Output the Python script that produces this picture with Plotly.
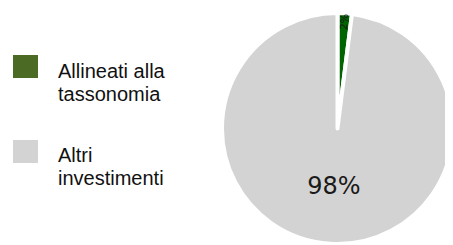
import plotly.graph_objects as go

labels = ["Allineati alla tassonomia", "Altri investimenti"]
values = [2, 98]
slice_colors = ["#006400", "#d3d3d3"]
legend_colors = ["#4b6b25", "#d3d3d3"]
legend_lines = [["Allineati alla", "tassonomia"], ["Altri", "investimenti"]]

# page body has an 8px margin; figure sized so it fits the 453x245 window
W, H = 445, 237
MT, MB = 5, 1
PH = H - MT - MB
OFF = 8


def px_x(x):
    return (x - OFF) / W


def px_y(y):
    return 1 - (y - OFF - MT) / PH


fig = go.Figure()
fig.add_trace(go.Pie(
    labels=labels,
    values=values,
    sort=False,
    direction="clockwise",
    rotation=0,
    marker=dict(colors=slice_colors, line=dict(color="white", width=4)),
    textinfo="percent",
    textposition="inside",
    insidetextfont=dict(family="DejaVu Sans", size=24, color="#1a1a1a"),
    hoverinfo="label+percent",
    showlegend=False,
    domain=dict(x=[px_x(222), 1.0], y=[0.0, 1.0]),
))

sq_top = [55, 140]
text_mid = [[71, 93.5], [155, 177.5]]
for i in range(2):
    fig.add_shape(type="rect", xref="paper", yref="paper",
                  x0=px_x(13), x1=px_x(38), y0=px_y(sq_top[i] + 23), y1=px_y(sq_top[i]),
                  fillcolor=legend_colors[i], line=dict(width=0))
    for j, line in enumerate(legend_lines[i]):
        fig.add_annotation(text=line, xref="paper", yref="paper",
                           x=px_x(56), y=px_y(text_mid[i][j]), xanchor="left", yanchor="middle",
                           showarrow=False,
                           font=dict(family="Liberation Sans, Arial", size=20, color="#111111"))

fig.update_layout(
    width=W, height=H,
    margin=dict(l=0, r=0, t=MT, b=MB),
    paper_bgcolor="white",
    plot_bgcolor="white",
)
fig.write_html("out.html")
